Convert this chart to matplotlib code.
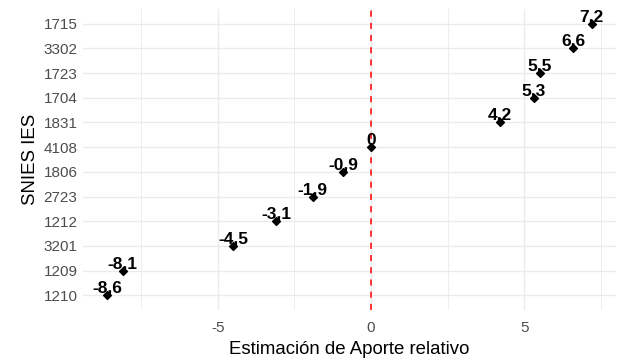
import matplotlib
matplotlib.use("Agg")
import matplotlib.pyplot as plt
from matplotlib.ticker import MultipleLocator

# data, bottom to top
codes = ["1210", "1209", "3201", "1212", "2723", "1806",
         "4108", "1831", "1704", "1723", "3302", "1715"]
aporte = [-8.6, -8.1, -4.5, -3.1, -1.9, -0.9, 0, 4.2, 5.3, 5.5, 6.6, 7.2]
labels = ["-8,6", "-8,1", "-4,5", "-3,1", "-1,9", "-0,9",
          "0", "4,2", "5,3", "5,5", "6,6", "7,2"]

plt.rcParams['font.family'] = ['Liberation Sans', 'DejaVu Sans']
plt.rcParams['axes.unicode_minus'] = False

fig = plt.figure(figsize=(6.18, 3.62), dpi=100)
ax = fig.add_axes([83 / 618, 52 / 362, 533 / 618, 301 / 362])

ypos = list(range(len(codes)))

ax.axvline(0, color="#FF0000", lw=1.1, ls=(0, (4, 4)), zorder=1)
ax.scatter(aporte, ypos, marker="D", s=16, color="black", zorder=3)

for x, y, lab in zip(aporte, ypos, labels):
    ax.annotate(lab, (x, y), xytext=(0, 1.8), textcoords="offset points",
                ha="center", va="baseline", fontsize=12.5, fontweight="bold",
                family=['Liberation Sans Narrow', 'Liberation Sans', 'DejaVu Sans'],
                zorder=4)

span = max(aporte) - min(aporte)
ax.set_xlim(min(aporte) - 0.05 * span, max(aporte) + 0.05 * span)
ax.set_ylim(-0.6, len(codes) - 1 + 0.6)

ax.xaxis.set_major_locator(MultipleLocator(5))
ax.xaxis.set_minor_locator(MultipleLocator(2.5))
ax.set_yticks(ypos)
ax.set_yticklabels(codes)

ax.grid(which="major", color="#EBEBEB", lw=1.0, zorder=0)
ax.grid(which="minor", axis="x", color="#EBEBEB", lw=0.6, zorder=0)
ax.set_axisbelow(True)
for s in ax.spines.values():
    s.set_visible(False)
ax.tick_params(which="both", length=0, labelsize=11, labelcolor="#4D4D4D")
ax.tick_params(axis="x", pad=8)
ax.tick_params(axis="y", pad=4)

ax.set_xlabel("Estimación de Aporte relativo", fontsize=13.4, labelpad=4)
ax.set_ylabel("SNIES IES", fontsize=13.4, labelpad=3)

fig.savefig("out.png", dpi=100)
